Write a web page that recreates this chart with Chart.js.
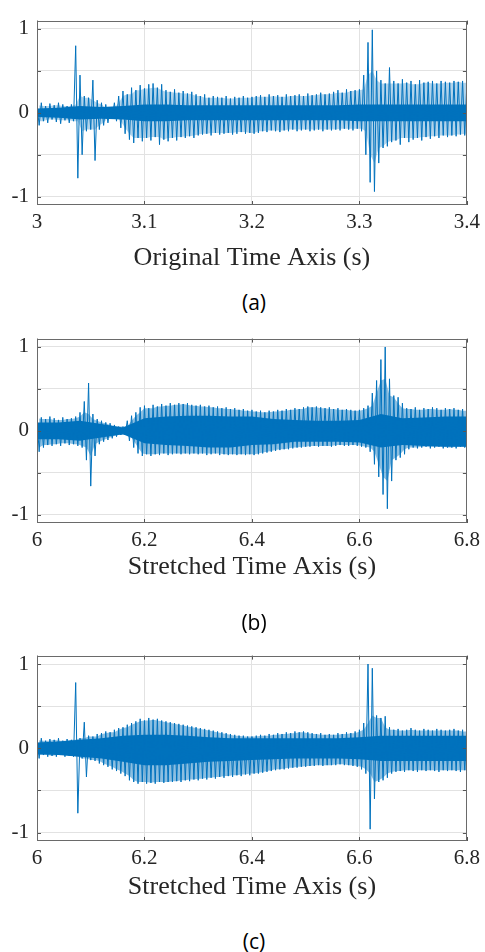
<!DOCTYPE html>
<html>
<head>
<meta charset="utf-8">
<script src="https://cdn.jsdelivr.net/npm/chart.js@4.4.1/dist/chart.umd.min.js"></script>
<style>
  body { margin: 0; background: #fff; width: 485px; height: 952px; position: relative; overflow: hidden; }
  canvas { position: absolute; left: 0; }
  .cap { position: absolute; left: 0; width: 508px; text-align: center; font-family: 'Open Sans', sans-serif; font-size: 21px; line-height: 22px; color: #000; }
</style>
</head>
<body>
<canvas id="chart-a"></canvas>
<canvas id="chart-b"></canvas>
<canvas id="chart-c"></canvas>
<div class="cap" id="cap-a">(a)</div>
<div class="cap" id="cap-b">(b)</div>
<div class="cap" id="cap-c">(c)</div>
<script>
// peak values of the waveform, one top/bottom pair per sample step
const aStart = 3, aStep = 0.004;
const aTop = [0.1, 0.12, 0.08, 0.11, 0.09, 0.12, 0.1, 0.08, 0.1,
  0.8, 0.45, 0.2, 0.18, 0.39, 0.15, 0.12, 0.1, 0.06, 0.12, 0.2, 0.26, 0.22, 0.3, 0.27, 0.33, 0.29, 0.34, 0.35, 0.3, 0.34, 0.27,
  0.25, 0.28, 0.24, 0.26, 0.23, 0.25, 0.22,
  0.2, 0.22, 0.18, 0.2, 0.19, 0.18, 0.2, 0.17, 0.19, 0.18, 0.2, 0.18, 0.19,
  0.2, 0.21, 0.19, 0.22, 0.2, 0.21, 0.19, 0.22, 0.2, 0.21, 0.22, 0.2, 0.23, 0.21, 0.22, 0.24, 0.22, 0.23,
  0.25, 0.27, 0.24, 0.28, 0.26, 0.27, 0.28,
  0.45, 0.84, 0.99, 0.5, 0.39, 0.35, 0.54,
  0.38, 0.35, 0.4, 0.36, 0.38, 0.34, 0.39, 0.36, 0.37, 0.38, 0.35, 0.38, 0.37, 0.36, 0.38, 0.37, 0.38, 0.36];
const aBot = [-0.15, -0.1, -0.12, -0.08, -0.11, -0.13, -0.09, -0.12, -0.1,
  -0.78, -0.5, -0.22, -0.2, -0.57, -0.2, -0.15, -0.12, -0.06, -0.1, -0.18, -0.25, -0.32, -0.36, -0.3, -0.34, -0.3, -0.33, -0.29, -0.38, -0.32, -0.34,
  -0.3, -0.33, -0.29, -0.3, -0.28, -0.3, -0.27,
  -0.26, -0.25, -0.27, -0.24, -0.26, -0.25, -0.24, -0.26, -0.25, -0.23, -0.25, -0.24, -0.25,
  -0.24, -0.22, -0.23, -0.21, -0.22, -0.23, -0.21, -0.22, -0.2, -0.22, -0.21, -0.2, -0.22, -0.21, -0.2, -0.22, -0.2, -0.21,
  -0.2, -0.21, -0.19, -0.2, -0.21, -0.19, -0.22,
  -0.5, -0.83, -0.94, -0.6, -0.42, -0.4, -0.35,
  -0.33, -0.38, -0.3, -0.35, -0.32, -0.3, -0.33, -0.29, -0.31, -0.28, -0.3, -0.27, -0.29, -0.27, -0.28, -0.26, -0.27, -0.25];
// dense inner band
const aCoreStep = 0.02;
const aCoreTop = [0.05, 0.06, 0.08, 0.07, 0.08, 0.1, 0.1, 0.09, 0.09, 0.09, 0.09, 0.09, 0.09, 0.09, 0.09, 0.1, 0.1, 0.1, 0.1, 0.1, 0.1];
const aCoreBot = [-0.05, -0.06, -0.08, -0.07, -0.08, -0.1, -0.1, -0.09, -0.09, -0.09, -0.09, -0.09, -0.09, -0.09, -0.09, -0.1, -0.1, -0.1, -0.1, -0.1, -0.1];

const bStart = 6, bStep = 0.008;
const bTop = [0.15,
  0.16, 0.14, 0.17, 0.15, 0.13, 0.16, 0.14, 0.15, 0.17,
  0.22, 0.35, 0.57, 0.2, 0.14,
  0.12, 0.1, 0.09, 0.07, 0.05,
  0.05, 0.12, 0.18, 0.22, 0.28, 0.3,
  0.27, 0.31, 0.29, 0.32, 0.3, 0.33, 0.31, 0.33, 0.32, 0.33, 0.31,
  0.3, 0.31, 0.29, 0.3, 0.28, 0.29, 0.27, 0.28, 0.26, 0.27, 0.25, 0.26, 0.24, 0.25,
  0.23, 0.24, 0.22, 0.24, 0.23, 0.25, 0.24, 0.26, 0.25, 0.27, 0.26, 0.28,
  0.29, 0.28, 0.29, 0.28, 0.27, 0.28, 0.26, 0.27, 0.25, 0.26, 0.25, 0.24, 0.25, 0.27,
  0.3, 0.45, 0.6, 0.85, 1.0, 0.62, 0.42, 0.4, 0.33,
  0.27, 0.26, 0.28, 0.25, 0.27, 0.26, 0.28, 0.27, 0.25, 0.27, 0.26, 0.27, 0.25, 0.26, 0.24];
const bBot = [-0.25,
  -0.2, -0.17, -0.18, -0.16, -0.18, -0.15, -0.17, -0.16, -0.18,
  -0.2, -0.35, -0.66, -0.3, -0.16,
  -0.13, -0.11, -0.09, -0.07, -0.05,
  -0.05, -0.12, -0.2, -0.27, -0.3, -0.28,
  -0.3, -0.28, -0.29, -0.27, -0.29, -0.28, -0.27, -0.28, -0.27, -0.28, -0.27,
  -0.28, -0.27, -0.29, -0.28, -0.27, -0.29, -0.28, -0.29, -0.28, -0.29, -0.28, -0.29, -0.28, -0.29,
  -0.28, -0.27, -0.26, -0.25, -0.24, -0.23, -0.22, -0.22, -0.21, -0.2, -0.2, -0.19,
  -0.19, -0.18, -0.19, -0.18, -0.18, -0.19, -0.18, -0.17, -0.18, -0.18, -0.17, -0.18, -0.19, -0.2,
  -0.25, -0.4, -0.55, -0.76, -0.93, -0.6, -0.35, -0.32, -0.28,
  -0.22, -0.2, -0.21, -0.2, -0.19, -0.21, -0.2, -0.19, -0.21, -0.2, -0.2, -0.21, -0.19, -0.2, -0.2];
const bCoreStep = 0.04;
const bCoreTop = [0.1, 0.1, 0.12, 0.08, 0.04, 0.15, 0.17, 0.18, 0.18, 0.17, 0.17, 0.14, 0.13, 0.12, 0.12, 0.13, 0.2, 0.15, 0.16, 0.17, 0.17];
const bCoreBot = [-0.1, -0.1, -0.12, -0.08, -0.04, -0.15, -0.17, -0.18, -0.2, -0.2, -0.17, -0.16, -0.13, -0.13, -0.13, -0.14, -0.2, -0.17, -0.18, -0.19, -0.19];

const cStart = 6, cStep = 0.008;
const cTop = [0.1, 0.12, 0.09, 0.11, 0.1, 0.12, 0.09, 0.11, 0.1,
  0.78, 0.12, 0.31,
  0.15, 0.14, 0.17, 0.18, 0.2, 0.19, 0.22, 0.24,
  0.25, 0.28, 0.3, 0.32, 0.35, 0.33, 0.36, 0.34, 0.35, 0.33, 0.32,
  0.31, 0.3, 0.29, 0.28, 0.27, 0.26, 0.25, 0.24, 0.23, 0.22, 0.21, 0.2, 0.19, 0.18, 0.17, 0.16, 0.15, 0.15, 0.14, 0.14,
  0.15, 0.16, 0.15, 0.17, 0.16, 0.18, 0.17, 0.19, 0.18, 0.2, 0.19, 0.2, 0.19, 0.18, 0.17, 0.18, 0.16, 0.17, 0.16, 0.18, 0.17, 0.19, 0.18, 0.2, 0.22, 0.3,
  1.0, 0.95, 0.39, 0.36, 0.38,
  0.25, 0.22, 0.23, 0.21, 0.22, 0.24, 0.22, 0.21, 0.23, 0.22, 0.21, 0.23, 0.22, 0.21, 0.22, 0.23, 0.21, 0.22, 0.2];
const cBot = [-0.12, -0.08, -0.1, -0.09, -0.1, -0.08, -0.1, -0.09, -0.1,
  -0.77, -0.12, -0.34,
  -0.14, -0.15, -0.18, -0.2, -0.22, -0.25, -0.27, -0.3,
  -0.33, -0.38, -0.4, -0.42, -0.4, -0.42, -0.41, -0.42, -0.4, -0.41, -0.4,
  -0.4, -0.39, -0.4, -0.38, -0.39, -0.37, -0.38, -0.36, -0.37, -0.35, -0.36, -0.34, -0.35, -0.33, -0.34, -0.32, -0.33, -0.31, -0.32, -0.3,
  -0.3, -0.29, -0.28, -0.27, -0.26, -0.25, -0.25, -0.24, -0.23, -0.23, -0.22, -0.22, -0.21, -0.21, -0.2, -0.21, -0.2, -0.2, -0.2, -0.19, -0.2, -0.2, -0.21, -0.22, -0.25, -0.3,
  -0.96, -0.6, -0.4, -0.38, -0.35,
  -0.3, -0.28, -0.27, -0.28, -0.26, -0.27, -0.28, -0.26, -0.27, -0.26, -0.27, -0.28, -0.26, -0.27, -0.26, -0.27, -0.28, -0.26, -0.27];
const cCoreStep = 0.04;
const cCoreTop = [0.07, 0.08, 0.1, 0.12, 0.15, 0.16, 0.16, 0.15, 0.13, 0.12, 0.12, 0.12, 0.12, 0.12, 0.12, 0.13, 0.15, 0.15, 0.15, 0.15, 0.15];
const cCoreBot = [-0.07, -0.08, -0.1, -0.12, -0.16, -0.2, -0.2, -0.18, -0.16, -0.15, -0.14, -0.13, -0.12, -0.12, -0.12, -0.13, -0.15, -0.15, -0.15, -0.15, -0.15];

const aTicks = [3, 3.1, 3.2, 3.3, 3.4];
const bcTicks = [6, 6.2, 6.4, 6.6, 6.8];
const yTicks = [-1, -0.5, 0, 0.5, 1];

const blue = '#0072bd';
const serif = "'Liberation Serif', 'Times New Roman', serif";

// MATLAB-style box with ticks pointing inwards
const boxPlugin = {
  id: 'box',
  afterDraw(chart) {
    const { ctx, chartArea: a, scales: { x, y } } = chart;
    ctx.save();
    ctx.strokeStyle = '#555';
    ctx.lineWidth = 1;
    ctx.beginPath();
    x.ticks.forEach((t) => {
      const px = Math.round(x.getPixelForValue(t.value)) + 0.5;
      ctx.moveTo(px, a.top); ctx.lineTo(px, a.top + 4);
      ctx.moveTo(px, a.bottom); ctx.lineTo(px, a.bottom - 4);
    });
    y.ticks.forEach((t) => {
      const py = Math.round(y.getPixelForValue(t.value)) + 0.5;
      ctx.moveTo(a.left, py); ctx.lineTo(a.left + 4, py);
      ctx.moveTo(a.right, py); ctx.lineTo(a.right - 4, py);
    });
    ctx.stroke();
    ctx.strokeStyle = '#6a6a6a';
    ctx.strokeRect(Math.round(a.left) + 0.5, Math.round(a.top) + 0.5,
      Math.round(a.right - a.left) - 1, Math.round(a.bottom - a.top) - 1);
    ctx.restore();
  },
};

function wave(t0, step, top, bot) {
  const pts = [];
  top.forEach((v, i) => {
    pts.push({ x: t0 + i * step, y: v });
    pts.push({ x: t0 + (i + 0.5) * step, y: bot[i] });
  });
  return pts;
}

function band(t0, step, vals, shift) {
  return vals.map((v, i) => ({ x: t0 + (i + (shift || 0)) * step, y: v }));
}

// pale body of the oscillation: isolated spikes are left to the trace itself
function haze(vals, pick) {
  return vals.map((v, i) => pick(vals[Math.max(i - 1, 0)], v, vals[Math.min(i + 1, vals.length - 1)]));
}

function makeChart(p) {
  const canvas = document.getElementById(p.id);
  canvas.width = 485;
  canvas.height = p.height;
  canvas.style.top = p.top + 'px';

  new Chart(canvas, {
    type: 'line',
    data: {
      datasets: [
        {
          // zig-zag trace between the peaks
          data: wave(p.start, p.step, p.top_, p.bot),
          borderColor: blue,
          borderWidth: 1,
          fill: false,
          order: 0,
        },
        {
          data: band(p.start, p.coreStep, p.coreTop),
          borderWidth: 0,
          backgroundColor: blue,
          fill: '+1',
          order: 1,
        },
        {
          data: band(p.start, p.coreStep, p.coreBot),
          borderWidth: 0,
          fill: false,
          order: 2,
        },
        {
          data: band(p.start, p.step, haze(p.top_, Math.min)),
          borderWidth: 0,
          backgroundColor: p.haze,
          fill: '+1',
          order: 3,
        },
        {
          data: band(p.start, p.step, haze(p.bot, Math.max), 0.5),
          borderWidth: 0,
          fill: false,
          order: 4,
        },
      ],
    },
    options: {
      responsive: false,
      animation: false,
      events: [],
      elements: { point: { radius: 0 }, line: { tension: 0 } },
      layout: { padding: { top: p.padTop, right: 14, left: 0, bottom: 0 } },
      plugins: { legend: { display: false }, tooltip: { enabled: false }, filler: { propagate: false } },
      scales: {
        x: {
          type: 'linear',
          min: p.ticks[0],
          max: p.ticks[p.ticks.length - 1],
          afterBuildTicks: (s) => { s.ticks = p.ticks.map((v) => ({ value: v })); },
          afterFit: (s) => { s.height = p.axisHeight; },
          grid: { color: '#e2e2e2', drawTicks: false },
          border: { display: false },
          ticks: {
            padding: 5,
            maxRotation: 0,
            color: '#262626',
            font: { family: serif, size: 21 },
            callback: (v) => String(v),
          },
          title: {
            display: true,
            text: p.label,
            color: '#262626',
            font: { family: serif, size: 26 },
            padding: { top: 0, bottom: 4 },
          },
        },
        y: {
          min: -1.1,
          max: 1.1,
          afterBuildTicks: (s) => { s.ticks = yTicks.map((v) => ({ value: v })); },
          afterFit: (s) => { s.width = 37; },
          grid: { color: '#e2e2e2', drawTicks: false },
          border: { display: false },
          ticks: {
            padding: 8,
            color: '#262626',
            font: { family: serif, size: 21 },
            callback: (v) => (Number.isInteger(v) ? String(v) : ''),
          },
        },
      },
    },
    plugins: [boxPlugin],
  });

  document.getElementById(p.capId).style.top = (p.capY - 11) + 'px';
}

makeChart({ id: 'chart-a', capId: 'cap-a', top: 0, height: 278, padTop: 8, axisHeight: 73, capY: 302,
  haze: 'rgba(0, 114, 189, 0.3)',
  start: aStart, step: aStep, top_: aTop, bot: aBot, coreStep: aCoreStep, coreTop: aCoreTop, coreBot: aCoreBot,
  ticks: aTicks, label: 'Original Time Axis (s)' });
makeChart({ id: 'chart-b', capId: 'cap-b', top: 318, height: 269, padTop: 10, axisHeight: 64, capY: 622,
  haze: 'rgba(0, 114, 189, 0.45)',
  start: bStart, step: bStep, top_: bTop, bot: bBot, coreStep: bCoreStep, coreTop: bCoreTop, coreBot: bCoreBot,
  ticks: bcTicks, label: 'Stretched Time Axis (s)' });
makeChart({ id: 'chart-c', capId: 'cap-c', top: 635, height: 272, padTop: 10, axisHeight: 66, capY: 941,
  haze: 'rgba(0, 114, 189, 0.45)',
  start: cStart, step: cStep, top_: cTop, bot: cBot, coreStep: cCoreStep, coreTop: cCoreTop, coreBot: cCoreBot,
  ticks: bcTicks, label: 'Stretched Time Axis (s)' });
</script>
</body>
</html>
